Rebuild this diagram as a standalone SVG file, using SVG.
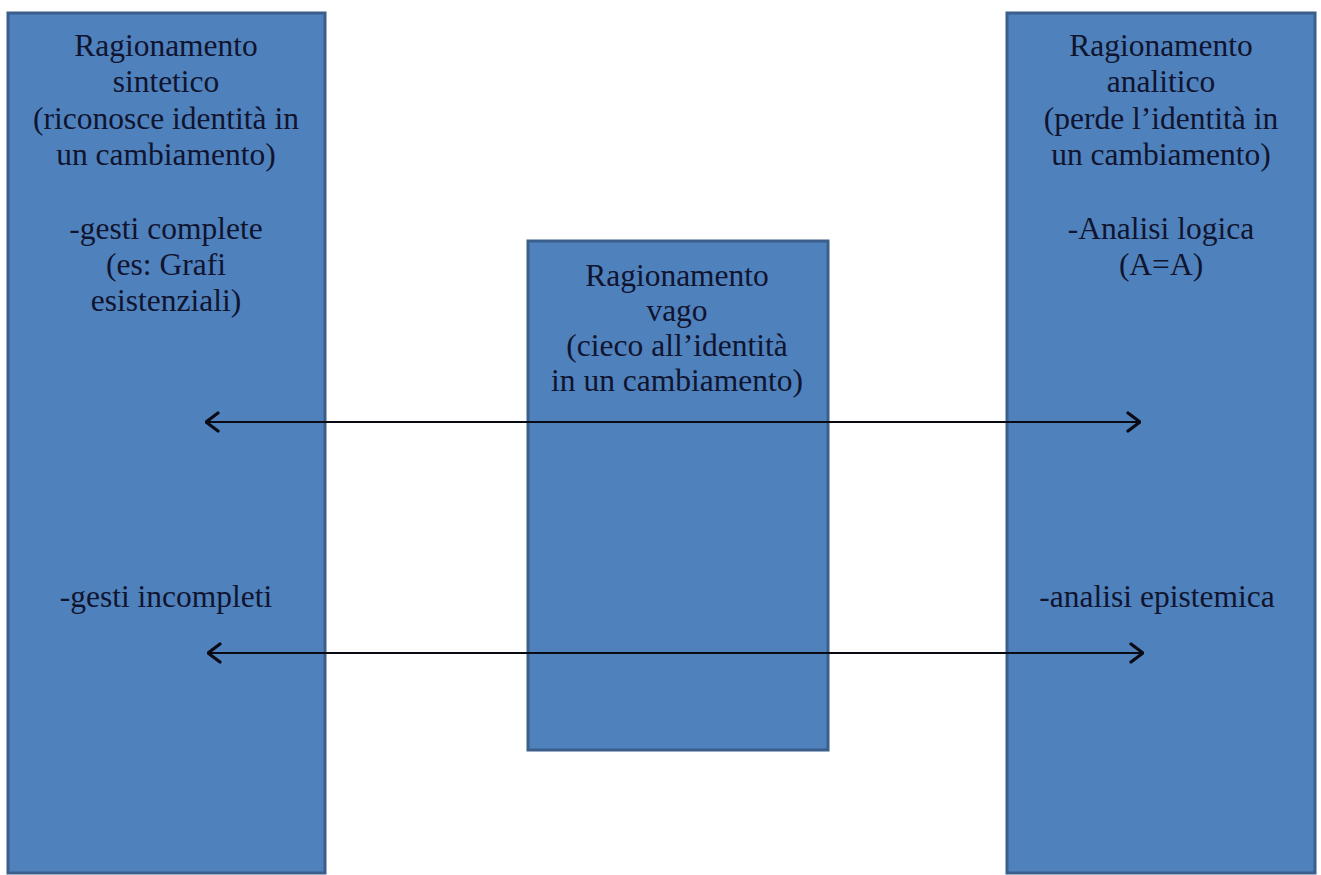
<svg xmlns="http://www.w3.org/2000/svg" width="1321" height="875" viewBox="0 0 1321 875">
<defs>
<style>
.box{fill:#4F81BD;stroke:#3A5F8C;stroke-width:3}
.t{font-family:"Liberation Serif","Times New Roman",serif;font-size:31.5px;fill:#10142e;text-anchor:middle}
.c{stroke:#0a0a14;stroke-width:2.2;fill:none}
</style>
<marker id="ah" viewBox="0 0 15 22" refX="14" refY="11" markerWidth="15" markerHeight="22" markerUnits="userSpaceOnUse" orient="auto-start-reverse">
<path d="M2,2 L14,11 L2,20" fill="none" stroke="#0a0a14" stroke-width="3.2" stroke-linecap="round" stroke-linejoin="round"/>
</marker>
</defs>
<rect width="1321" height="875" fill="#ffffff"/>
<g id="node-sintetico">
<rect class="box" x="8" y="13" width="317" height="860"/>
<text class="t" x="166" y="56">Ragionamento</text>
<text class="t" x="166" y="92">sintetico</text>
<text class="t" x="166" y="129">(riconosce identità in</text>
<text class="t" x="166" y="165">un cambiamento)</text>
<text class="t" x="166" y="239">-gesti complete</text>
<text class="t" x="166" y="275">(es: Grafi</text>
<text class="t" x="166" y="311">esistenziali)</text>
<text class="t" x="166" y="607">-gesti incompleti</text>
</g>
<g id="node-vago">
<rect class="box" x="528" y="241" width="300" height="509"/>
<text class="t" x="677" y="286">Ragionamento</text>
<text class="t" x="677" y="321">vago</text>
<text class="t" x="677" y="356">(cieco all’identità</text>
<text class="t" x="677" y="391">in un cambiamento)</text>
</g>
<g id="node-analitico">
<rect class="box" x="1007" y="13" width="308" height="860"/>
<text class="t" x="1161" y="56">Ragionamento</text>
<text class="t" x="1161" y="92">analitico</text>
<text class="t" x="1161" y="129">(perde l’identità in</text>
<text class="t" x="1161" y="165">un cambiamento)</text>
<text class="t" x="1161" y="239">-Analisi logica</text>
<text class="t" x="1161" y="275">(A=A)</text>
<text class="t" x="1157" y="607">-analisi epistemica</text>
</g>
<g id="connectors">
<line class="c" x1="206" y1="422" x2="1140" y2="422" marker-start="url(#ah)" marker-end="url(#ah)"/>
<line class="c" x1="208" y1="653" x2="1143" y2="653" marker-start="url(#ah)" marker-end="url(#ah)"/>
</g>
</svg>
